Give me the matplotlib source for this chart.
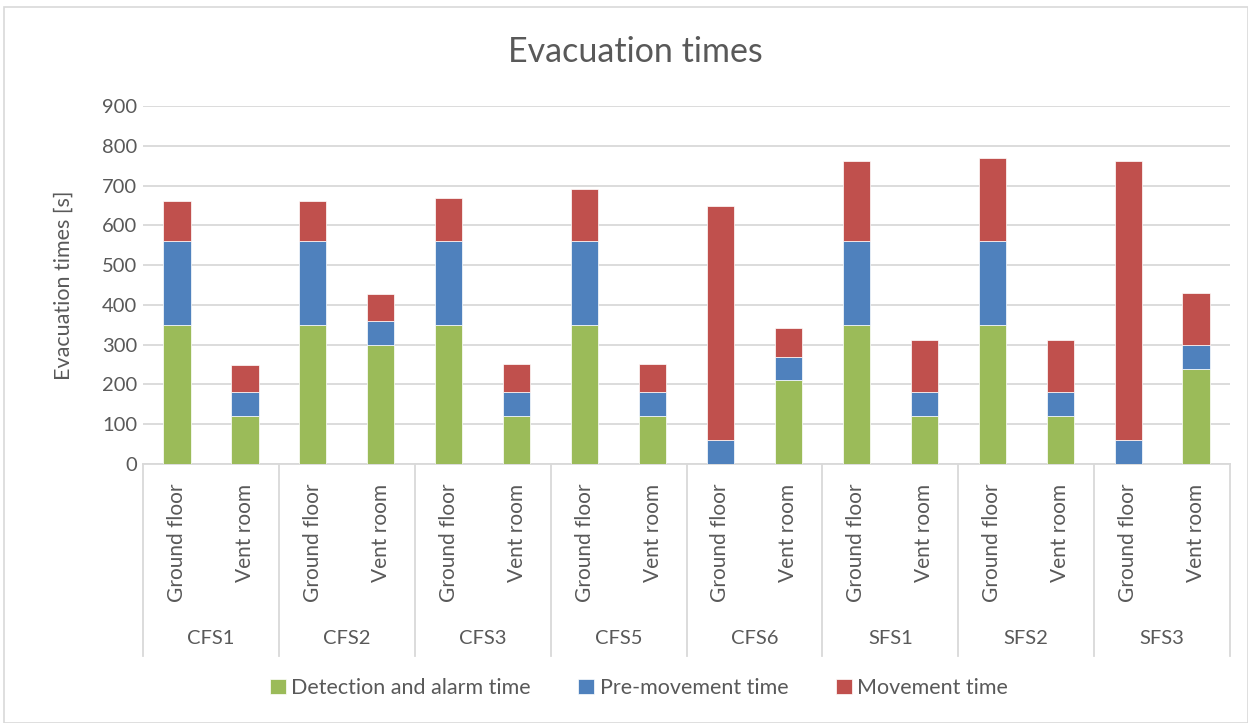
import numpy as np
import matplotlib.pyplot as plt
from matplotlib.patches import Rectangle
import matplotlib.transforms as mtransforms

plt.rcParams['font.family'] = ['Lato', 'DejaVu Sans']

# data
groups = ['CFS1', 'CFS2', 'CFS3', 'CFS5', 'CFS6', 'SFS1', 'SFS2', 'SFS3']
sub_labels = ['Ground floor', 'Vent room']
detection = [350, 120, 350, 300, 350, 120, 350, 120, 0, 210, 350, 120, 350, 120, 0, 240]
premovement = [210, 60, 210, 60, 210, 60, 210, 60, 60, 60, 210, 60, 210, 60, 60, 60]
movement = [102, 68, 102, 68, 109, 72, 132, 72, 588, 72, 202, 132, 209, 132, 702, 130]

green = '#9BBB59'
blue = '#4F81BD'
red = '#C0504D'
txt = '#595959'
grid = '#D9D9D9'

fig = plt.figure(figsize=(12.48, 7.23), dpi=100)
ax = fig.add_axes([0.1146, 0.3582, 0.8710, 0.4952])

x = np.arange(len(detection))
det = np.array(detection)
pre = np.array(premovement)
mov = np.array(movement)
w = 0.4
ax.bar(x, det, w, color=green, edgecolor='white', linewidth=0.5, label='Detection and alarm time', zorder=3)
ax.bar(x, pre, w, bottom=det, color=blue, edgecolor='white', linewidth=0.5, label='Pre-movement time', zorder=3)
ax.bar(x, mov, w, bottom=det + pre, color=red, edgecolor='white', linewidth=0.5, label='Movement time', zorder=3)

ax.set_xlim(-0.5, len(x) - 0.5)
ax.set_ylim(0, 900)
ax.set_yticks(np.arange(0, 901, 100))
ax.yaxis.grid(True, color=grid, linewidth=1.3, zorder=0)
ax.set_axisbelow(True)
for s in ['top', 'right', 'left']:
    ax.spines[s].set_visible(False)
ax.spines['bottom'].set_color(grid)
ax.spines['bottom'].set_linewidth(1.3)
ax.tick_params(axis='y', length=0, labelsize=14.5, labelcolor=txt, pad=4)
ax.set_ylabel('Evacuation times [s]', fontsize=15.5, color=txt)
ax.yaxis.set_label_coords(-0.064, 0.5)

ax.set_xticks(x)
ax.set_xticklabels(sub_labels * len(groups), rotation=90, fontsize=15, color=txt, va='top')
ax.tick_params(axis='x', length=0, pad=14)

# category group separators and labels under the rotated ones
trans = mtransforms.blended_transform_factory(ax.transData, ax.transAxes)
for i in range(len(groups) + 1):
    ax.plot([2 * i - 0.5, 2 * i - 0.5], [0, -0.535], color=grid, linewidth=1.3,
            transform=trans, clip_on=False)
for i, g in enumerate(groups):
    ax.text(2 * i + 0.5, -0.488, g, transform=trans, ha='center', va='center',
            fontsize=14.5, color=txt)

fig.text(635 / 1248, 1 - 52 / 723, 'Evacuation times', ha='center', va='center',
         fontsize=24.5, color=txt)

fig.legend(loc='center', bbox_to_anchor=(639 / 1248, 1 - 688 / 723), ncol=3, frameon=False,
           fontsize=15.5, labelcolor=txt, handlelength=0.75, handleheight=0.75,
           handletextpad=0.25, columnspacing=2.2)

fig.patches.append(Rectangle((4 / 1248, 0), 1 - 4 / 1248, 1 - 7 / 723, transform=fig.transFigure,
                             fill=False, edgecolor=grid, linewidth=1.2))

fig.savefig('out.png', dpi=100)
